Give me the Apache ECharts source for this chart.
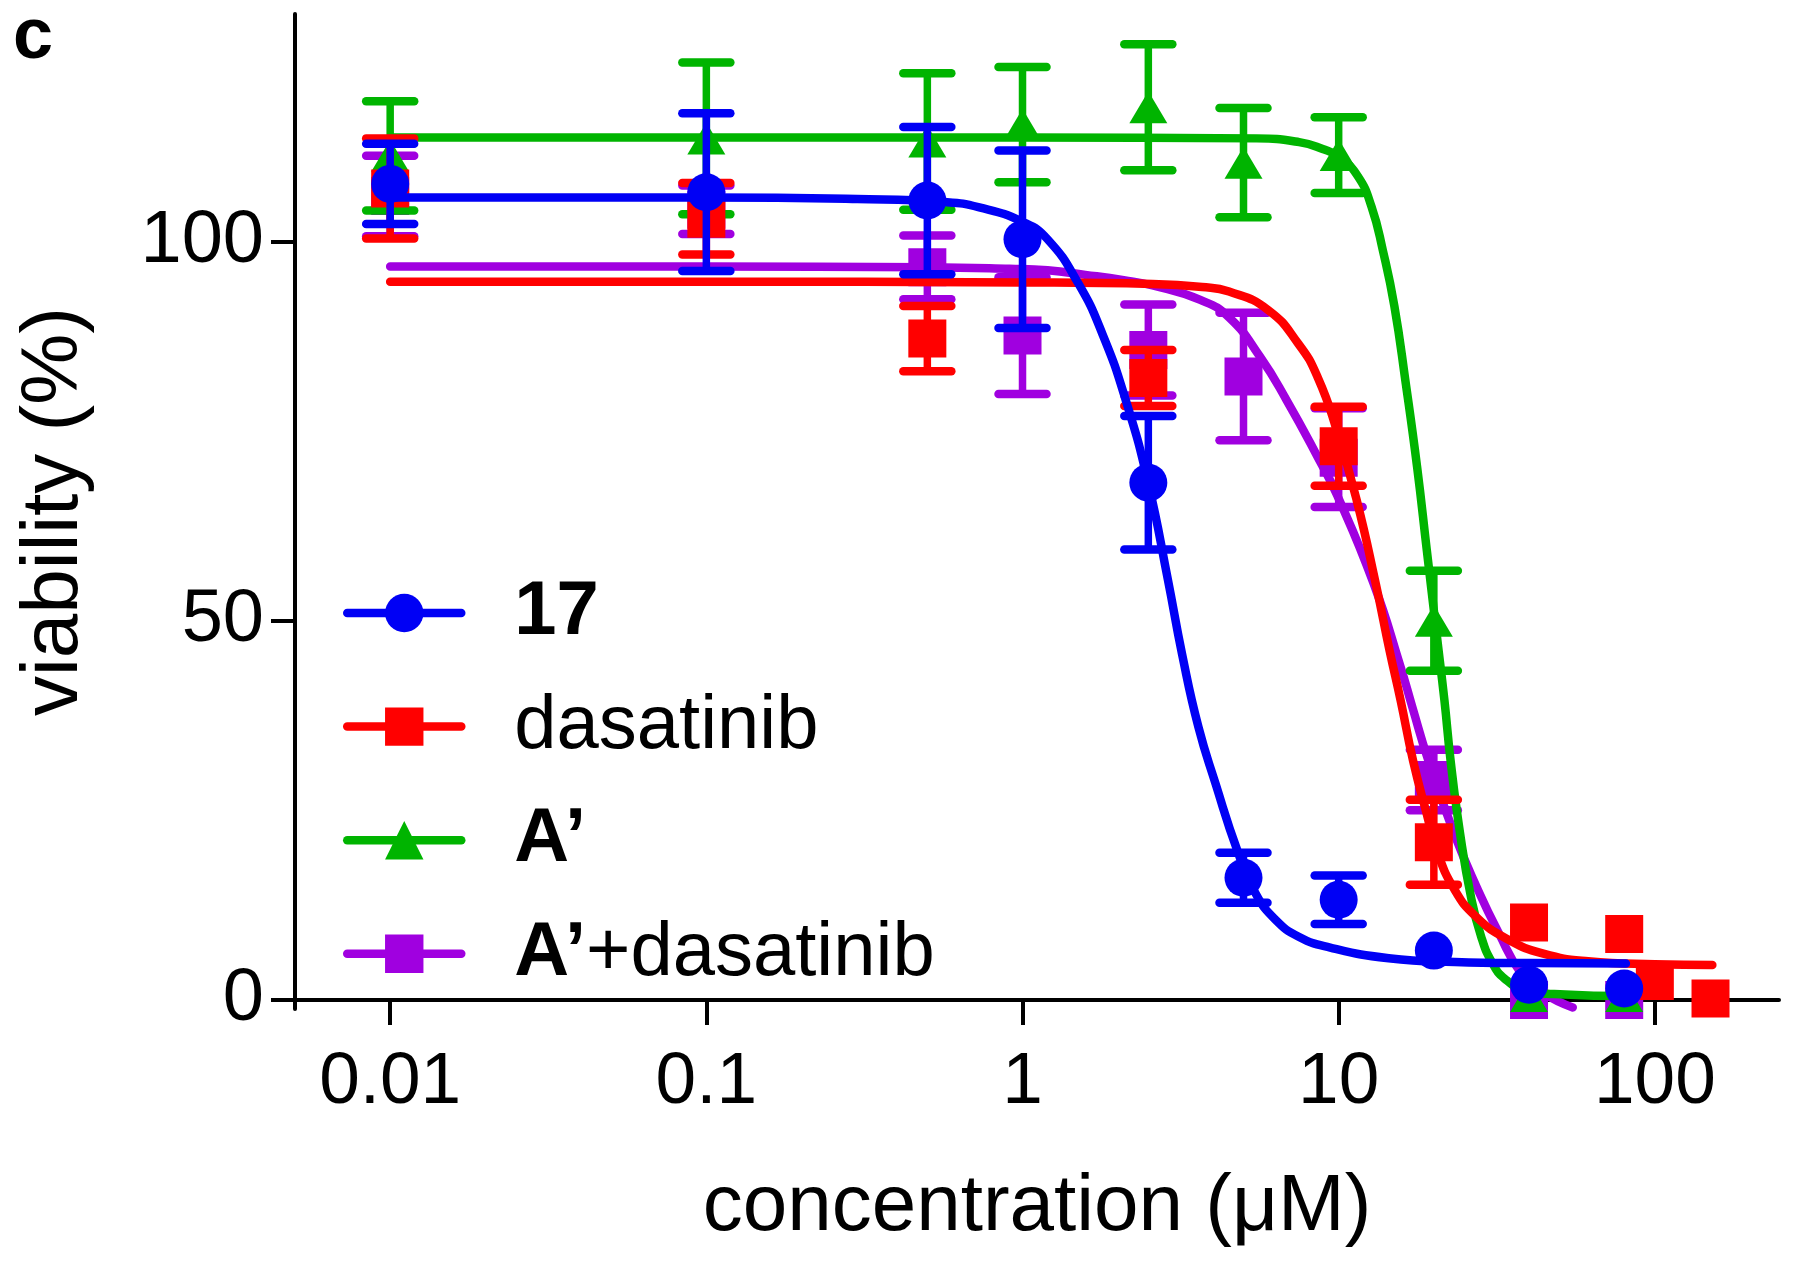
<!DOCTYPE html>
<html><head><meta charset="utf-8">
<script src="https://cdn.jsdelivr.net/npm/echarts@6/dist/echarts.min.js"></script>
<style>html,body{margin:0;padding:0;background:#fff}#c{width:1796px;height:1261px}</style>
</head><body><div id="c"></div>
<script>
// ---- data ----
const seriesNames = ['17', 'dasatinib', 'A\u2019', 'A\u2019+dasatinib'];
const xTicks = [0.01, 0.1, 1, 10, 100];
const xTickLabels = ['0.01', '0.1', '1', '10', '100'];
const yTicks = [0, 50, 100];
const yTickLabels = ['0', '50', '100'];

// measured points (mean, SD)
const concBlue = [0.01, 0.1, 0.5, 1, 2.5, 5, 10, 20, 40, 80];
const viaBlue  = [107.6, 106.5, 105.4, 100.3, 68.2, 16.1, 13.2, 6.5, 2.0, 1.5];
const errBlue  = [5.3, 10.4, 9.7, 11.7, 8.8, 3.3, 3.2, 0, 0, 0];

const concRed = [0.01, 0.1, 0.5, 2.5, 10, 20, 40, 80, 100, 150];
const viaRed  = [107, 103, 87.2, 82, 73, 20.8, 10.2, 8.7, 2.5, 0.2];
const errRed  = [6.6, 4.7, 4.3, 3.7, 5.2, 5.6, 0, 0, 0, 0];

const concGreen = [0.01, 0.1, 0.5, 1, 2.5, 5, 10, 20, 40, 80];
const viaGreen  = [111.3, 113.6, 113.2, 115.4, 117.7, 110.4, 111.4, 50, 0.5, 0.5];
const errGreen  = [7.2, 10, 9, 7.6, 8.3, 7.2, 5, 6.6, 0, 0];

const concPurple = [0.01, 0.1, 0.5, 1, 2.5, 5, 10, 20, 40, 80];
const viaPurple  = [106, 104.2, 96.6, 87.6, 85.7, 82.2, 71.5, 29, 0, 0];
const errPurple  = [5.3, 3.2, 4.2, 7.7, 6, 8.4, 6.5, 4, 0, 0];

// fitted curves
const curveBlue = [[0.01,105.8],[0.1,105.8],[0.3,105.6],[0.57,105.2],[0.73,104.5],[1.0,102.6],[1.2,100.3],[1.5,94.5],[1.79,87.8],[2.12,79.1],[2.5,68.1],[2.88,55.5],[3.2,45.5],[3.6,36],[4.08,28.5],[4.79,19.6],[5.45,14.1],[6.3,10.6],[7.5,8.3],[9.4,6.9],[14.4,5.5],[23.3,5.0],[40,4.85],[81,4.8]];
const curveRed = [[0.01,94.7],[0.1,94.7],[1,94.6],[2.58,94.4],[3.7,94.0],[4.5,93.4],[5.97,91.0],[7.46,86.5],[8.58,82.1],[9.88,75],[11.4,65.9],[13.1,54.9],[14.5,46],[15.7,39.5],[17.2,31.5],[19,24.5],[20.4,19.8],[23.2,14.6],[27.3,10.9],[34.2,8.0],[44.4,6.1],[61.5,5.1],[100,4.7],[152,4.6]];
const curveGreen = [[0.01,113.7],[1,113.7],[5.5,113.6],[7.5,113.1],[8.9,112.2],[10,111.2],[11.5,108.6],[12.7,104.6],[13.8,98.8],[15.0,91.5],[16.3,81.3],[17.7,70.3],[19.0,59.3],[20.4,48.3],[21.6,39.5],[22.6,31.5],[24.2,22],[26.2,13.6],[28.2,8.4],[30.5,5.0],[33.5,2.8],[38.9,1.3],[52,0.7],[79,0.5]];
const curvePurple = [[0.01,96.7],[0.1,96.7],[0.5,96.6],[0.91,96.4],[1.2,96.2],[1.58,95.6],[2.09,94.9],[2.58,94.2],[3.65,92.3],[4.5,90.0],[5.64,84.8],[6.84,79.1],[8.58,71.6],[9.9,66.5],[12.9,54.9],[15.7,43.9],[17.1,38.6],[19.2,31.6],[23.2,21.9],[27.3,14.9],[32.1,8.8],[37.8,3.5],[44.4,0.9],[55,-1]];

// ---- styles ----
const COLORS = { blue: '#0000F5', red: '#FF0000', green: '#00B400', purple: '#A000E0' };
const FONT = '"Liberation Sans", Arial, Helvetica, sans-serif';
const CURVE_W = 8.5;
const STEM_W = 7.5;
const CAP_W = 8.5;
const CAP = 48;

function errData(xs, ys, es) {
  const out = [];
  for (let i = 0; i < xs.length; i++) if (es[i] > 0) out.push([xs[i], ys[i] - es[i], ys[i] + es[i]]);
  return out;
}
function ptData(xs, ys) { return xs.map((x, i) => [x, ys[i]]); }

function errRender(color) {
  return function (params, api) {
    const x = api.value(0), lo = api.value(1), hi = api.value(2);
    const t = api.coord([x, hi]), b = api.coord([x, lo]);
    const hw = CAP / 2;
    const st = { stroke: color, lineWidth: CAP_W, lineCap: 'round' };
    return { type: 'group', children: [
      { type: 'line', shape: { x1: t[0], y1: t[1], x2: b[0], y2: b[1] }, style: { stroke: color, lineWidth: STEM_W } },
      { type: 'line', shape: { x1: t[0] - hw, y1: t[1], x2: t[0] + hw, y2: t[1] }, style: st },
      { type: 'line', shape: { x1: b[0] - hw, y1: b[1], x2: b[0] + hw, y2: b[1] }, style: st }
    ]};
  };
}

function group(name, color, symbol, symSize, curve, xs, ys, es, z) {
  return [
    { name: name, type: 'line', data: curve, smooth: 0.5, showSymbol: false, symbol: symbol, z: z,
      lineStyle: { color: color, width: CURVE_W, cap: 'round', join: 'round' }, itemStyle: { color: color }, silent: true },
    { name: name, type: 'custom', data: errData(xs, ys, es), renderItem: errRender(color), z: z,
      encode: { x: 0, y: [1, 2] }, silent: true },
    { name: name, type: 'scatter', data: ptData(xs, ys), symbol: symbol, symbolSize: symSize, z: z,
      itemStyle: { color: color, opacity: 1 }, silent: true }
  ];
}

const series = [].concat(
  group(seriesNames[3], COLORS.purple, 'rect', 38, curvePurple, concPurple, viaPurple, errPurple, 2),
  group(seriesNames[2], COLORS.green, 'triangle', [38, 32], curveGreen, concGreen, viaGreen, errGreen, 3),
  group(seriesNames[1], COLORS.red, 'rect', 38, curveRed, concRed, viaRed, errRed, 4),
  group(seriesNames[0], COLORS.blue, 'circle', 38, curveBlue, concBlue, viaBlue, errBlue, 5)
);

const chart = echarts.init(document.getElementById('c'), null, { renderer: 'canvas' });
chart.setOption({
  animation: false,
  backgroundColor: '#fff',
  grid: { left: 295, top: 14, right: 17, bottom: 252, containLabel: false },
  xAxis: {
    type: 'log', logBase: 10, min: 0.005, max: 247,
    name: 'concentration (\u03BCM)', nameLocation: 'middle', nameGap: 159,
    nameTextStyle: { fontSize: 80, fontFamily: FONT, color: '#000' },
    axisLine: { show: true, lineStyle: { color: '#000', width: 4 } },
    axisTick: { show: true, customValues: xTicks, length: 25, lineStyle: { color: '#000', width: 4 } },
    axisLabel: { customValues: xTicks, fontSize: 73, fontFamily: FONT, color: '#000', margin: 37,
      formatter: function (v) { let k = 0; for (let i = 0; i < xTicks.length; i++) if (Math.abs(Math.log10(v) - Math.log10(xTicks[i])) < 1e-6) k = i; return xTickLabels[k]; } },
    splitLine: { show: false }, minorTick: { show: false }, minorSplitLine: { show: false }
  },
  yAxis: {
    type: 'value', min: -1.2, max: 130,
    name: 'viability (%)', nameLocation: 'middle', nameGap: 200, nameRotate: 90,
    nameTextStyle: { fontSize: 80, fontFamily: FONT, color: '#000' },
    axisLine: { show: true, lineStyle: { color: '#000', width: 4 } },
    axisTick: { show: true, customValues: yTicks, length: 24, lineStyle: { color: '#000', width: 4 } },
    axisLabel: { customValues: yTicks, fontSize: 74, fontFamily: FONT, color: '#000', margin: 31,
      formatter: function (v) { const k = yTicks.indexOf(Math.round(v)); return k >= 0 ? yTickLabels[k] : ''; } },
    splitLine: { show: false }
  },
  legend: {
    orient: 'vertical', left: 343, top: 575, padding: 0, itemGap: 37.6,
    itemWidth: 114, itemHeight: 48, selectedMode: false,
    data: seriesNames,
    lineStyle: { width: 8.5, cap: 'round' },
    formatter: function (n) {
      if (n === seriesNames[0]) return '{b|17}';
      if (n === seriesNames[1]) return '{n|dasatinib}';
      if (n === seriesNames[2]) return '{b|A\u2019}';
      return '{b|A\u2019}{n|+dasatinib}';
    },
    textStyle: { padding: [0, 0, 0, 48], rich: {
      b: { fontSize: 76, fontWeight: 'bold', fontFamily: FONT, color: '#000', lineHeight: 80 },
      n: { fontSize: 76, fontFamily: FONT, color: '#000', lineHeight: 80 }
    } }
  },
  graphic: [{ type: 'text', left: 13, top: 2, style: { text: 'c', font: 'bold 72px ' + FONT, fill: '#000' } }],
  series: series
});
</script>
</body></html>
